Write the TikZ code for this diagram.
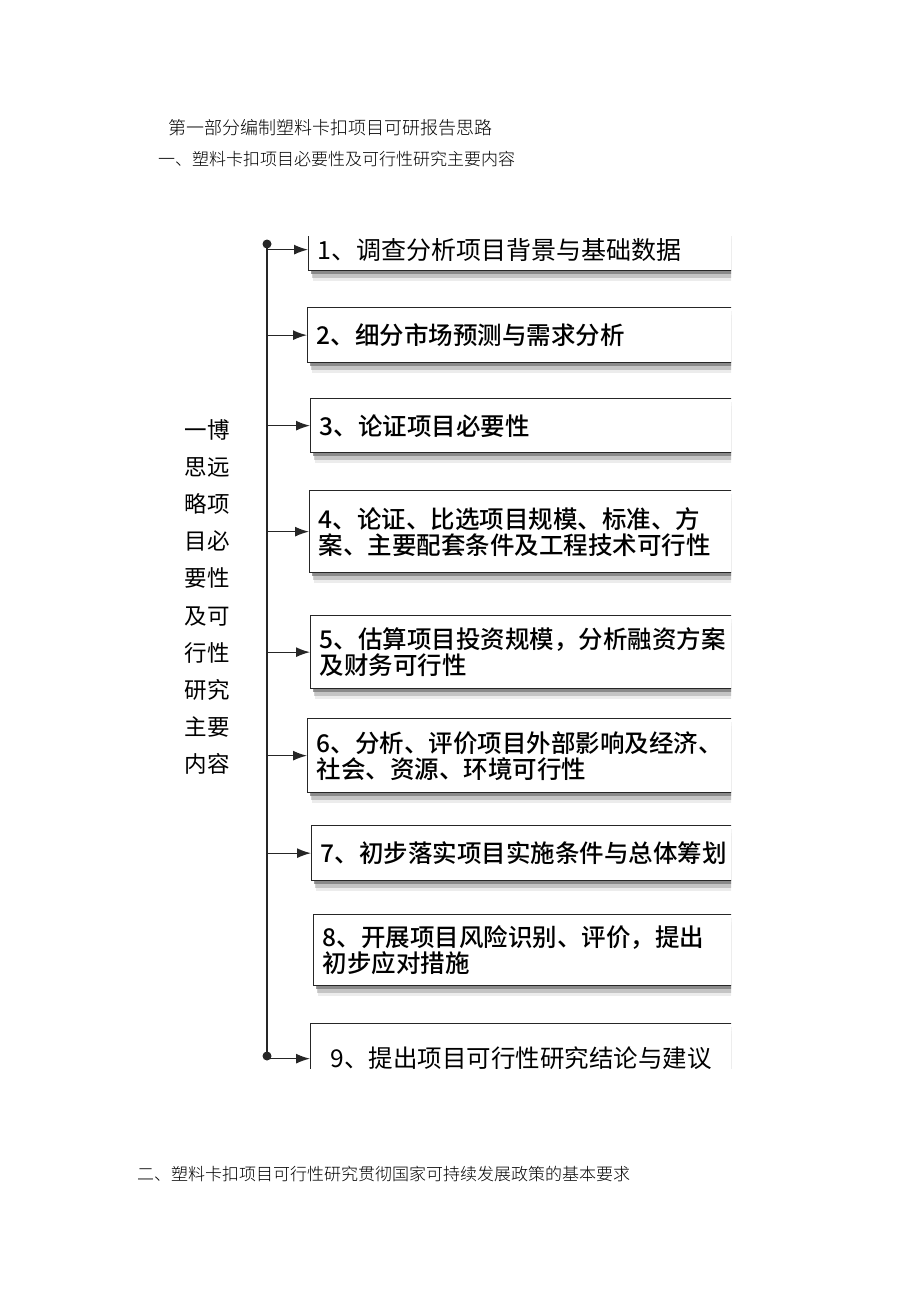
\documentclass[tikz,border=0pt]{standalone}
\usepackage{fontspec}
\setmainfont{Noto Sans CJK SC}[BoldFont={Noto Sans CJK SC Medium}]
\newfontfamily\lightcjk{Noto Sans CJK SC Light}
\usetikzlibrary{arrows.meta,shadows}

\begin{document}
\begin{tikzpicture}
    [x=1pt, y=-1pt,
     every node/.style = {inner sep=0pt},
     item/.style = {draw=black!85, line width=1.3pt, fill=white, anchor=north west,
        text width=440pt, inner xsep=9pt, align=left,
        font=\fontsize{24.5}{26}\selectfont\bfseries,
        drop shadow={shadow xshift=2pt, shadow yshift=-3pt, opacity=.55, fill=black!70},
        drop shadow={shadow xshift=3pt, shadow yshift=-7pt, opacity=.3, fill=black!60},
        drop shadow={shadow xshift=4pt, shadow yshift=-10pt, opacity=.15, fill=black!50}},
     arr/.style = {-{Latex[length=14pt,width=10pt]}, line width=1.3pt, draw=black!85, fill=black!85},
     head/.style = {anchor=west, font=\lightcjk\fontsize{17}{20}\selectfont}]
    \useasboundingbox (0,0) rectangle (920,1301);

    \node[head, font=\lightcjk\fontsize{18}{20}\selectfont] (t1) at (168,128) {第一部分编制塑料卡扣项目可研报告思路};
    \node[head] (t2) at (158,159) {一、塑料卡扣项目必要性及可行性研究主要内容};
    \node[head] (t3) at (137,1174) {二、塑料卡扣项目可行性研究贯彻国家可持续发展政策的基本要求};

    \node[font=\fontsize{22.5}{37.1}\selectfont, align=center] (lbl) at (207,597)
      {一博\\思远\\略项\\目必\\要性\\及可\\行性\\研究\\主要\\内容};

    \begin{scope}
      \clip (250,236) rectangle (731,1068);
      \node[item, minimum height=42pt, font=\fontsize{25}{26}\selectfont] (b1) at (308,228) {1、调查分析项目背景与基础数据};
      \node[item, minimum height=55pt] (b2) at (307,307) {2、细分市场预测与需求分析};
      \node[item, minimum height=54pt] (b3) at (310,398) {3、论证项目必要性};
      \node[item, minimum height=82pt] (b4) at (309,490) {4、论证、比选项目规模、标准、方\\案、主要配套条件及工程技术可行性};
      \node[item, minimum height=73pt] (b5) at (310,615) {5、估算项目投资规模，分析融资方案\\及财务可行性};
      \node[item, minimum height=74pt] (b6) at (307,718) {6、分析、评价项目外部影响及经济、\\社会、资源、环境可行性};
      \node[item, minimum height=55pt] (b7) at (311,825) {7、初步落实项目实施条件与总体筹划};
      \node[item, minimum height=71pt] (b8) at (313,914) {8、开展项目风险识别、评价，提出\\初步应对措施};
      \node[item, minimum height=70pt, inner xsep=20pt, text width=420pt,
            font=\fontsize{24.5}{26}\selectfont] (b9) at (310,1023) {9、提出项目可行性研究结论与建议};

      \coordinate (top) at (267,244);
      \coordinate (bot) at (267,1056);
      \draw[line width=1.3pt, black!85] (top) -- (bot);
      \fill[black!85] (top) circle (4.5pt);
      \fill[black!85] (bot) circle (4.5pt);
      \foreach \b in {b1,b2,b3,b4,b5,b6,b7,b9}
        \draw[arr] (top |- \b.west) -- (\b.west);
    \end{scope}
  \end{tikzpicture}
\end{document}
